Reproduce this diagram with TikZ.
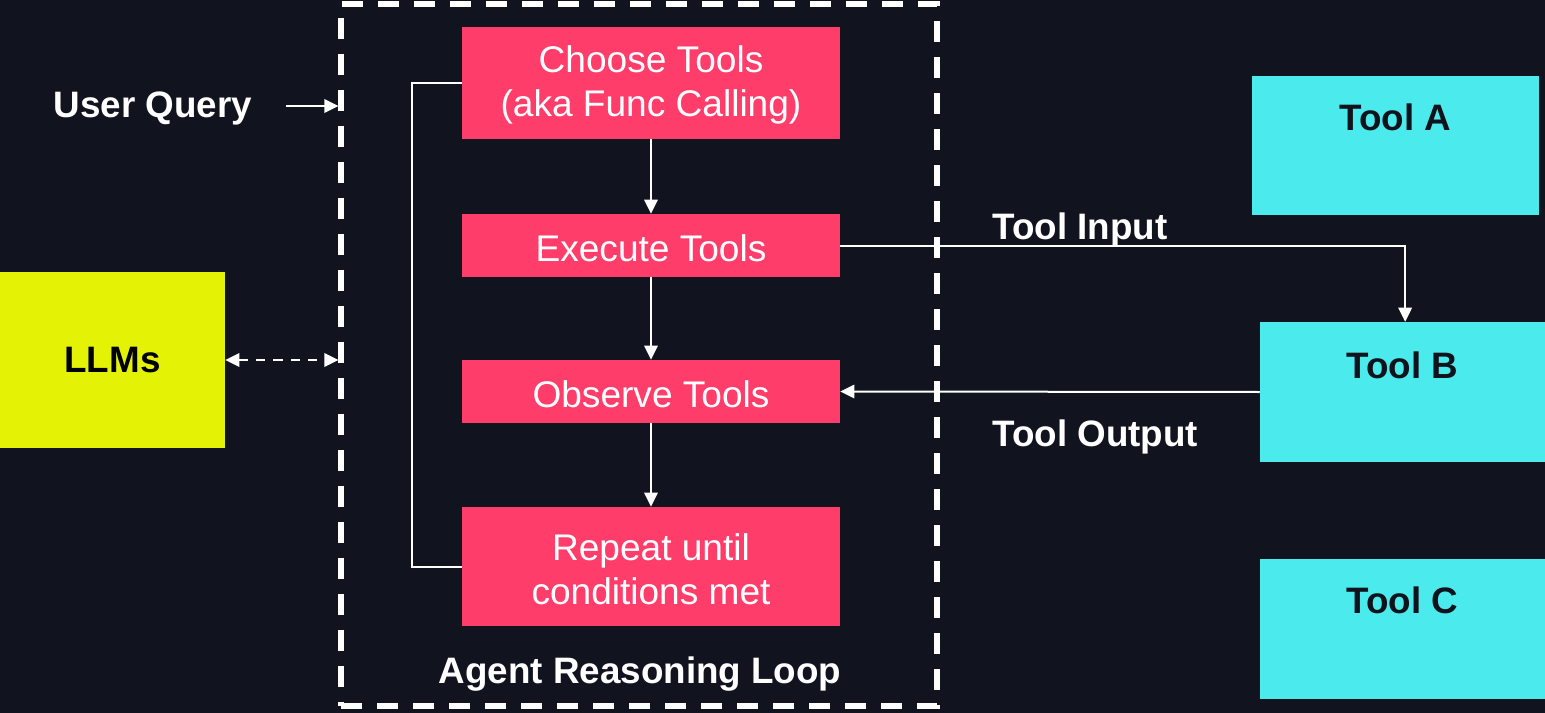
\documentclass[tikz,border=0pt]{standalone}
\usepackage{fontspec}
\setmainfont{Liberation Sans}
\usetikzlibrary{arrows.meta}

\definecolor{bgdark}{HTML}{11131F}
\definecolor{steppink}{HTML}{FF3D6A}
\definecolor{llmyellow}{HTML}{E4F305}
\definecolor{toolcyan}{HTML}{4BEAEC}
\definecolor{inkdark}{HTML}{10121C}

\tikzset{
  stepbox/.style={fill=steppink, minimum width=283.5pt, inner sep=0pt},
  steptext/.style={text=white, align=center, inner sep=0pt, yshift=-1.8pt,
    font=\fontsize{27.8pt}{33pt}\selectfont},
  toolbox/.style={fill=toolcyan, inner sep=0pt},
  tooltext/.style={text=inkdark, font=\fontsize{27.6pt}{33pt}\selectfont\bfseries, inner sep=0pt},
  boldlabel/.style={text=white, font=\fontsize{27.6pt}{33pt}\selectfont\bfseries, inner sep=0pt},
  link/.style={draw=white, line width=1.5pt},
  tip/.style={-{Triangle[length=10.5pt,width=10pt]}},
  arrowlink/.style={link, tip},
  loopframe/.style={draw=white, line width=3.8pt, dash pattern=on 16pt off 11pt}
}

\begin{document}
\begin{tikzpicture}[x=0.75pt,y=-0.75pt]
  % canvas
  \fill[bgdark] (0,0) rectangle (1545,713);
  \useasboundingbox (0,0) rectangle (1545,713);

  % agent loop frame
  \node[loopframe, minimum width=447pt, minimum height=526.5pt, inner sep=0pt] (loop) at (639,355) {};
  \node[boldlabel] (looptitle) at (640,674) {Agent Reasoning Loop};

  % reasoning steps
  \node[stepbox, minimum height=84pt,
        label={[steptext, name=chooseText]center:Choose Tools\\(aka Func Calling)}] (choose) at (651,83) {};
  \node[stepbox, minimum height=47.25pt,
        label={[steptext, name=execText]center:Execute Tools}] (exec) at (651,245.5) {};
  \node[stepbox, minimum height=47.25pt,
        label={[steptext, name=observeText]center:Observe Tools}] (observe) at (651,391.5) {};
  \node[stepbox, minimum height=89.25pt,
        label={[steptext, name=repeatText]center:Repeat until\\conditions met}] (repeat) at (651,566.5) {};

  % LLMs
  \node[fill=llmyellow, minimum width=168.75pt, minimum height=132pt, inner sep=0pt,
        text=black, font=\fontsize{27.6pt}{33pt}\selectfont\bfseries] (llm) at (112.5,360) {LLMs};

  % user query
  \node[boldlabel] (query) at (153,108) {User Query};
  \coordinate (querystart) at ([shift={(25pt,1.5pt)}]query.east);

  % tools
  \node[toolbox, minimum width=215.25pt, minimum height=104.25pt] (toolA) at (1395.5,145.5) {};
  \node[tooltext] (toolAtext) at ([yshift=-31.5pt]toolA.north) {Tool A};
  \node[toolbox, minimum width=213.75pt, minimum height=105pt] (toolB) at (1402.5,392) {};
  \node[tooltext] (toolBtext) at ([yshift=-33pt]toolB.north) {Tool B};
  \node[toolbox, minimum width=213.75pt, minimum height=105pt] (toolC) at (1402.5,629) {};
  \node[tooltext] (toolCtext) at ([yshift=-31.5pt]toolC.north) {Tool C};

  % io labels
  \node[boldlabel, anchor=west] (inlabel) at (992,230) {Tool Input};
  \node[boldlabel, anchor=west] (outlabel) at (992,437) {Tool Output};

  % step flow
  \draw[arrowlink] (choose) -- (exec);
  \draw[arrowlink] (exec) -- (observe);
  \draw[arrowlink] (observe) -- (repeat);

  % loop back
  \draw[link] (choose.west) -- ++(-50,0) |- (repeat.west);

  % tool calls
  \draw[arrowlink] (exec.east) -| ([xshift=2pt]toolB.north);
  \draw[arrowlink] (toolB.west) -- (observe.east);

  % inputs to the loop
  \draw[arrowlink] (querystart) -- (loop.west |- querystart);
  \draw[link, dash pattern=on 7pt off 6pt,
        {Triangle[length=10.5pt,width=10pt]}-{Triangle[length=10.5pt,width=10pt]}]
        (llm.east) -- (loop.west |- llm.east);
\end{tikzpicture}
\end{document}
